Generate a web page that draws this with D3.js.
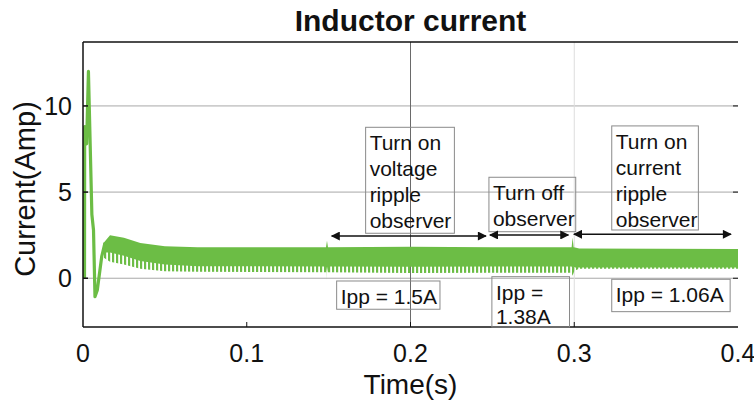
<!DOCTYPE html>
<html>
<head>
<meta charset="utf-8">
<script src="https://cdn.jsdelivr.net/npm/d3@7/dist/d3.min.js"></script>
<style>
    body { margin: 0; background: #ffffff; }
    svg { display: block; font-family: "Liberation Sans", Arial, sans-serif; }
    .tick-label { font-size: 25px; fill: #111111; }
    .axis-title { font-size: 28px; fill: #111111; }
    .note { font-size: 21px; fill: #111111; }
</style>
</head>
<body>
<svg id="chart" width="754" height="409"></svg>
<script>
// Start-up transient (time in s, current in A)
const START_TIMES = [0, 0.0001, 0.0013, 0.0024, 0.0045, 0.0055, 0.0064, 0.0078, 0.0105, 0.0125];
const START_VALUES = [0, 8.8, 7.8, 12.0, 3.7, 2.8, -1.07, -0.7, 1.25, 2.05];

// Ripple band envelope
const BAND_TIMES = [0.0125, 0.0165, 0.025, 0.035, 0.05, 0.07, 0.1484, 0.149, 0.1496, 0.2, 0.25, 0.2984, 0.299, 0.2996, 0.3005, 0.303, 0.4];
const BAND_UPPER = [2.05, 2.5, 2.35, 2.05, 1.85, 1.8, 1.8, 2.17, 1.8, 1.83, 1.8, 1.8, 2.36, 1.8, 1.78, 1.72, 1.7];
const BAND_LOWER = [1.5, 1.5, 1.3, 1.0, 0.8, 0.7, 0.68, 0.3, 0.68, 0.66, 0.68, 0.68, 0.5, 0.68, 0.62, 0.62, 0.62];
const BAND_TIPS = [1.2, 0.95, 0.8, 0.55, 0.4, 0.38, 0.35, -0.1, 0.35, 0.3, 0.32, 0.32, 0.15, 0.32, 0.45, 0.55, 0.55];

// Axes
const X_TICKS = [0, 0.1, 0.2, 0.3, 0.4];
const Y_TICKS = [0, 5, 10];

// Annotations: [t0, t1, vTop, vBottom]
const NOTE_LINES = [
    ["Turn on", "voltage", "ripple", "observer"],
    ["Turn off", "observer"],
    ["Turn on", "current", "ripple", "observer"]
];
const NOTE_BOXES = [
    [0.1726, 0.2268, 8.76, 2.61],
    [0.2479, 0.3009, 5.86, 2.70],
    [0.3229, 0.3758, 8.84, 2.80]
];
const ARROW_SPANS = [[0.1519, 0.2461, 2.45], [0.2485, 0.2964, 2.51], [0.2998, 0.3957, 2.55]];
const IPP_LINES = [["Ipp = 1.5A"], ["Ipp =", "1.38A"], ["Ipp = 1.06A"]];
const IPP_BOXES = [
    [0.1549, 0.2180, -0.16, -1.80],
    [0.2497, 0.2971, 0.09, -2.83],
    [0.3229, 0.3952, -0.06, -1.94]
];

const GREEN = "#6cbd45";
const width = 754;
const height = 409;
const margin = { top: 42, right: 16, bottom: 82, left: 83 };

const svg = d3.select("#chart");

const x = d3.scaleLinear()
    .domain([0, 0.4])
    .range([margin.left, width - margin.right]);

const y = d3.scaleLinear()
    .domain([-2.83, 13.71])
    .range([height - margin.bottom, margin.top]);

const defs = svg.append("defs");

defs.append("clipPath")
    .attr("id", "plot-clip")
    .append("rect")
    .attr("x", margin.left)
    .attr("y", margin.top)
    .attr("width", width - margin.left - margin.right)
    .attr("height", height - margin.top - margin.bottom);

// vertical stripes for the notched lower edge of the ripple band
const teeth = defs.append("pattern")
    .attr("id", "teeth")
    .attr("patternUnits", "userSpaceOnUse")
    .attr("width", 4)
    .attr("height", 8);
teeth.append("rect")
    .attr("width", 2.2)
    .attr("height", 8)
    .attr("fill", GREEN);

defs.append("marker")
    .attr("id", "arrow-head")
    .attr("viewBox", "0 0 10 10")
    .attr("refX", 9)
    .attr("refY", 5)
    .attr("markerWidth", 7)
    .attr("markerHeight", 6)
    .attr("orient", "auto-start-reverse")
    .append("path")
    .attr("d", "M0,0L10,5L0,10Z")
    .attr("fill", "#111111");

// Grid
const grid = svg.append("g");
grid.selectAll(".hgrid")
    .data(Y_TICKS)
    .enter()
    .append("line")
    .attr("x1", margin.left)
    .attr("x2", width - margin.right)
    .attr("y1", (d) => y(d))
    .attr("y2", (d) => y(d))
    .attr("stroke", "#a8a8a8")
    .attr("stroke-width", 1);

grid.selectAll(".vgrid")
    .data([0.2, 0.3])
    .enter()
    .append("line")
    .attr("x1", (d) => x(d))
    .attr("x2", (d) => x(d))
    .attr("y1", margin.top)
    .attr("y2", height - margin.bottom)
    .attr("stroke", (d) => d === 0.2 ? "#6a6a6a" : "#dddddd")
    .attr("stroke-width", 1);

// Trace
const plot = svg.append("g").attr("clip-path", "url(#plot-clip)");

const bandPoints = BAND_TIMES.map((t, i) => ({
    t: t,
    upper: BAND_UPPER[i],
    lower: BAND_LOWER[i],
    tip: BAND_TIPS[i]
}));

plot.append("path")
    .datum(bandPoints)
    .attr("fill", "url(#teeth)")
    .attr("d", d3.area()
        .x((d) => x(d.t))
        .y0((d) => y(d.tip))
        .y1((d) => y(d.lower) - 1));

plot.append("path")
    .datum(bandPoints)
    .attr("fill", GREEN)
    .attr("d", d3.area()
        .x((d) => x(d.t))
        .y0((d) => y(d.lower))
        .y1((d) => y(d.upper)));

const startPoints = START_TIMES.map((t, i) => ({ t: t, v: START_VALUES[i] }));

plot.append("path")
    .datum(startPoints)
    .attr("fill", "none")
    .attr("stroke", GREEN)
    .attr("stroke-width", 3.2)
    .attr("stroke-linejoin", "round")
    .attr("d", d3.line()
        .x((d) => x(d.t) + 1.5)
        .y((d) => y(d.v)));

// Frame
const frame = svg.append("g")
    .attr("stroke", "#111111")
    .attr("stroke-width", 1.5);
frame.append("line")
    .attr("x1", margin.left).attr("x2", width - margin.right)
    .attr("y1", margin.top).attr("y2", margin.top);
frame.append("line")
    .attr("x1", margin.left).attr("x2", width - margin.right)
    .attr("y1", height - margin.bottom).attr("y2", height - margin.bottom);
frame.append("line")
    .attr("x1", margin.left).attr("x2", margin.left)
    .attr("y1", margin.top).attr("y2", height - margin.bottom);

// inward ticks
frame.selectAll(".ytick")
    .data(Y_TICKS)
    .enter()
    .append("line")
    .attr("x1", margin.left)
    .attr("x2", margin.left + 5)
    .attr("y1", (d) => y(d))
    .attr("y2", (d) => y(d));

frame.selectAll(".ytick-right")
    .data(Y_TICKS)
    .enter()
    .append("line")
    .attr("stroke-width", 1)
    .attr("x1", width - margin.right - 5)
    .attr("x2", width - margin.right)
    .attr("y1", (d) => y(d))
    .attr("y2", (d) => y(d));

frame.selectAll(".xtick")
    .data(X_TICKS.slice(1, -1))
    .enter()
    .append("line")
    .attr("stroke-width", 1)
    .attr("x1", (d) => x(d))
    .attr("x2", (d) => x(d))
    .attr("y1", height - margin.bottom)
    .attr("y2", height - margin.bottom - 5);

// Tick labels
svg.selectAll(".ylabel")
    .data(Y_TICKS)
    .enter()
    .append("text")
    .classed("tick-label", true)
    .attr("x", margin.left - 11)
    .attr("y", (d) => y(d))
    .attr("dy", "0.36em")
    .attr("text-anchor", "end")
    .text((d) => d);

svg.selectAll(".xlabel")
    .data(X_TICKS)
    .enter()
    .append("text")
    .classed("tick-label", true)
    .attr("x", (d) => x(d))
    .attr("y", 362)
    .attr("text-anchor", "middle")
    .text((d) => d);

svg.append("text")
    .classed("axis-title", true)
    .attr("x", x(0.2))
    .attr("y", 394)
    .attr("text-anchor", "middle")
    .text("Time(s)");

svg.append("text")
    .classed("axis-title", true)
    .attr("font-size", 29)
    .style("font-size", "29px")
    .attr("transform", "translate(35 189) rotate(-90)")
    .attr("text-anchor", "middle")
    .text("Current(Amp)");

svg.append("text")
    .attr("x", x(0.2))
    .attr("y", 31)
    .attr("text-anchor", "middle")
    .attr("font-size", 30)
    .attr("font-weight", "bold")
    .attr("fill", "#111111")
    .text("Inductor current");

// Annotation boxes
const drawNotes = (boxes, lines, firstBaseline, lineStep) => {
    boxes.forEach((box, i) => {
        const x0 = x(box[0]);
        const x1 = x(box[1]);
        const yTop = y(box[2]);
        const yBottom = y(box[3]);

        svg.append("rect")
            .attr("x", x0)
            .attr("y", yTop)
            .attr("width", x1 - x0)
            .attr("height", yBottom - yTop)
            .attr("fill", "none")
            .attr("stroke", "#8a8a8a")
            .attr("stroke-width", 1);

        svg.append("g")
            .selectAll("text")
            .data(lines[i])
            .enter()
            .append("text")
            .classed("note", true)
            .attr("x", x0 + 4)
            .attr("y", (d, j) => yTop + firstBaseline + j * lineStep)
            .text((d) => d);
    });
};

drawNotes(NOTE_BOXES, NOTE_LINES, 23, 26);
drawNotes(IPP_BOXES, IPP_LINES, 23, 24.5);

svg.append("g")
    .selectAll("line")
    .data(ARROW_SPANS)
    .enter()
    .append("line")
    .attr("x1", (d) => x(d[0]))
    .attr("x2", (d) => x(d[1]))
    .attr("y1", (d) => y(d[2]))
    .attr("y2", (d) => y(d[2]))
    .attr("stroke", "#111111")
    .attr("stroke-width", 1.5)
    .attr("marker-start", "url(#arrow-head)")
    .attr("marker-end", "url(#arrow-head)");
</script>
</body>
</html>
